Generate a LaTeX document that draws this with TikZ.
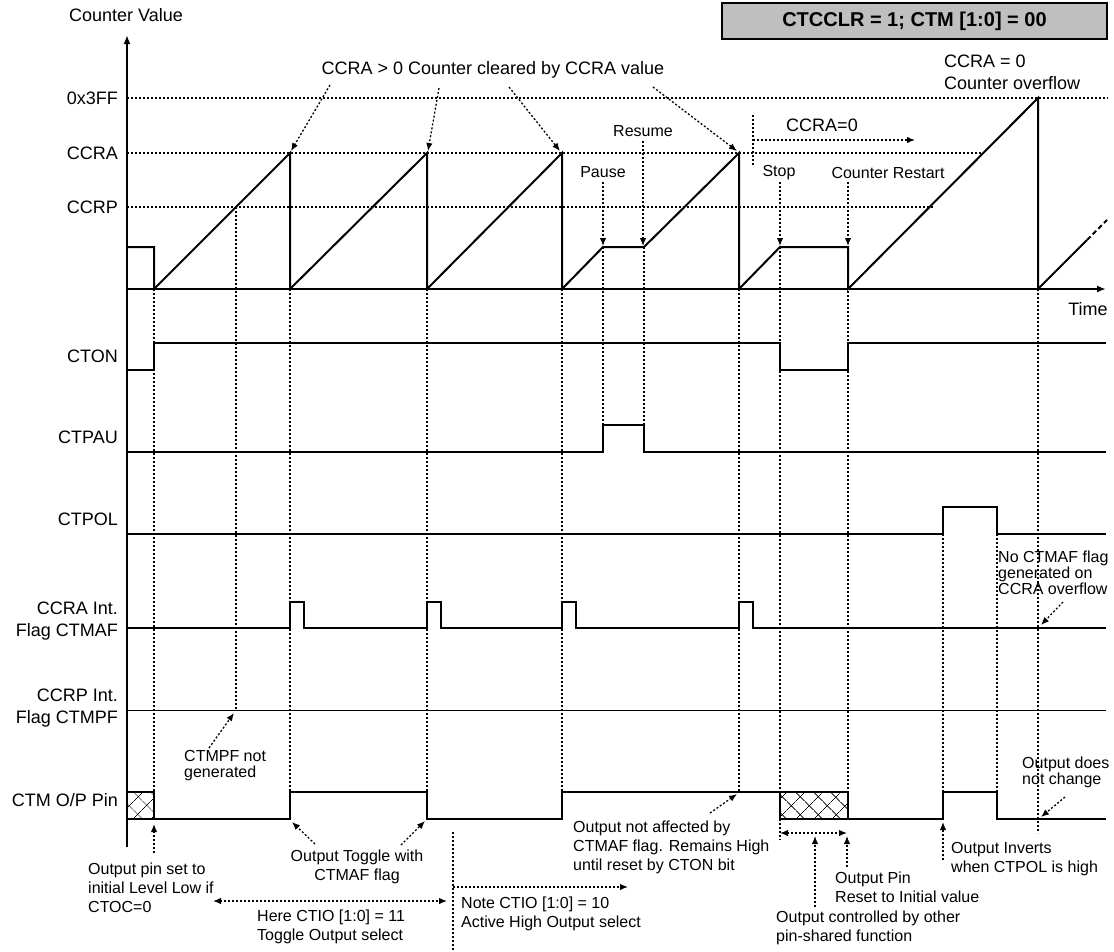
\documentclass[tikz,border=0pt]{standalone}
\usepackage{fontspec}
\setmainfont{Liberation Sans}
\usetikzlibrary{arrows.meta,patterns.meta}

\tikzset{
    lab/.style={inner sep=0pt, font=\fontsize{18}{22}\selectfont},
    note/.style={inner sep=0pt, anchor=west, align=left, font=\fontsize{16}{19}\selectfont},
    tight/.style={font=\fontsize{16}{16}\selectfont},
    guide/.style={line width=1.3pt, dash pattern=on 2pt off 2pt},
    hint/.style={guide, -{Latex[length=8pt,width=6.5pt]}},
    sig/.style={line width=1.5pt},
    cnt/.style={line width=2pt},
    xbox/.style={pattern={Hatch[angle=45,distance=13pt,line width=0.7pt]}}
}

\begin{document}
\begin{tikzpicture}[x=1pt, y=-1pt]
    \useasboundingbox (0,0) rectangle (1114,951);

    % mode
    \node[draw, line width=1.5pt, fill=black!25, minimum width=385pt, minimum height=36pt, inner sep=0pt,
          font=\fontsize{20}{24}\bfseries\selectfont] (mode) at (914.5,21) {CTCCLR = 1; CTM [1:0] = 00};

    % axes
    \draw[line width=2pt, -{Latex[length=9pt,width=7pt]}] (127,847) -- (127,35);
    \draw[line width=2pt, -{Latex[length=9pt,width=7pt]}] (127,289) -- (1106,289);
    \node[lab] (cval) at (126,15) {Counter Value};
    \node[lab] (time) at (1088,309) {Time};

    % levels
    \foreach \y/\t in {98/0x3FF, 153/CCRA, 207/CCRP}
        \node[lab, anchor=east] (lv\t) at (118,\y) {\t};
    \draw[guide] (127, 98) -- (1108, 98);
    \draw[guide] (127,153) -- (983,153);
    \draw[guide] (127,207) -- (933,207);

    % counter
    \draw[cnt] (127,247) -| (154,289) -- (290,153) -- (290,289) -- (427,153) -- (427,289)
        -- (562,153) -- (562,289) -- (603,247) -- (644,247) -- (739,153) -- (739,289)
        -- (780,247) -- (848,247) -- (848,289) -- (1038,98) -- (1038,289) -- (1087,240);
    \draw[cnt, dash pattern=on 5pt off 3pt] (1087,240) -- (1107,220);

    % signal names
    \node[lab, anchor=east] (ton) at (118,356) {CTON};
    \node[lab, anchor=east] (pau) at (118,437) {CTPAU};
    \node[lab, anchor=east] (pol) at (118,519) {CTPOL};
    \node[lab, anchor=east, align=right] (maf) at (118,621.5) {CCRA Int.\\Flag CTMAF};
    \node[lab, anchor=east, align=right] (mpf) at (118,708.5) {CCRP Int.\\Flag CTMPF};
    \node[lab, anchor=east] (pin) at (118,800) {CTM O/P Pin};

    % signals
    \draw[sig] (127,370) -- (154,370) -- (154,343) -- (780,343) -- (780,370) -- (848,370) -- (848,343) -- (1106,343);
    \draw[sig] (127,452) -- (603,452) -- (603,425) -- (644,425) -- (644,452) -- (1106,452);
    \draw[sig] (127,534) -- (943,534) -- (943,507) -- (997,507) -- (997,534) -- (1106,534);
    \draw[sig] (127,628) \foreach \t in {290,427,562,739} {-- (\t,628) -- (\t,602) -- (\t+14,602) -- (\t+14,628)} -- (1106,628);
    \draw[line width=1pt] (127,710) -- (1106,710);
    \fill[xbox] (127,792) rectangle (154,819);
    \fill[xbox] (780,792) rectangle (848,819);
    \draw[sig] (127,792) rectangle (154,819);
    \draw[sig] (780,792) rectangle (848,819);
    \draw[sig] (154,819) -- (290,819) -- (290,792) -- (427,792) -- (427,819) -- (562,819) -- (562,792) -- (780,792);
    \draw[sig] (848,819) -- (943,819) -- (943,792) -- (997,792) -- (997,819) -- (1106,819);

    % guides
    \draw[guide] (154,289) -- (154,819);
    \draw[guide] (236,207) -- (236,710);
    \draw[guide] (290,289) -- (290,819);
    \draw[guide] (427,289) -- (427,819);
    \draw[guide] (562,289) -- (562,819);
    \draw[guide] (603,247) -- (603,425);
    \draw[guide] (644,247) -- (644,425);
    \draw[guide] (739,289) -- (739,792);
    \draw[guide] (780,247) -- (780,840);
    \draw[guide] (848,247) -- (848,819);
    \draw[guide] (943,534) -- (943,819);
    \draw[guide] (997,534) -- (997,792);
    \draw[guide] (1038,289) -- (1038,833);
    \draw[guide] (753,115) -- (753,165);

    % top notes
    \node[lab] (clr) at (493,70) {CCRA > 0 Counter cleared by CCRA value};
    \draw[hint] (330,85) -- (291,151);
    \draw[hint] (439,88) -- (428,151);
    \draw[hint] (509,87) -- (560,151);
    \draw[hint] (653,87) -- (737,151);
    \node[note, anchor=center] (paus) at (603,172) {Pause};
    \node[note, anchor=center] (resm) at (643,131) {Resume};
    \node[note, anchor=center] (stop) at (779,173) {Stop};
    \node[note, anchor=center] (rest) at (888,173) {Counter Restart};
    \draw[hint] (603,182) -- (603,246);
    \draw[hint] (643,141) -- (643,246);
    \draw[hint] (780,182) -- (780,246);
    \draw[hint] (848,182) -- (848,246);
    \node[lab] (zero) at (822,125) {CCRA=0};
    \draw[hint] (753,140) -- (915,140);
    \node[lab, anchor=west, align=left] (ovf) at (944,72.5) {CCRA = 0\\Counter overflow};

    % side notes
    \node[note, tight] (nomaf) at (998,573) {No CTMAF flag\\generated on\\CCRA overflow};
    \draw[hint] (1063,602) -- (1041,625);
    \node[note, tight] (nompf) at (184,766) {CTMPF not\\generated};
    \draw[hint] (209,748) -- (234,713);
    \node[note, tight] (nochg) at (1022,772) {Output does\\not change};
    \draw[hint] (1065,797) -- (1041,817);

    % bottom notes
    \draw[hint] (154,853) -- (154,824);
    \node[note] (init) at (88,888) {Output pin set to\\initial Level Low if\\CTOC=0};
    \node[note, anchor=center, align=center] (togl) at (357,866.5) {Output Toggle with\\CTMAF flag};
    \draw[hint] (315,844) -- (292,822);
    \draw[hint] (401,845) -- (425,821);
    \draw[guide, {Latex[length=8pt,width=6.5pt]}-{Latex[length=8pt,width=6.5pt]}] (213,901) -- (447,901);
    \node[note] (here) at (257,927) {Here CTIO [1:0] = 11\\Toggle Output select};
    \draw[guide] (453,832) -- (453,951);
    \draw[hint] (453,887) -- (628,887);
    \node[note] (actv) at (461,914) {Note CTIO [1:0] = 10\\Active High Output select};
    \draw[hint] (710,813) -- (737,794);
    \node[note] (keep) at (573,847) {Output not affected by\\CTMAF flag. Remains High\\until reset by CTON bit};
    \draw[guide, {Latex[length=8pt,width=6.5pt]}-{Latex[length=8pt,width=6.5pt]}] (780,833) -- (847,833);
    \draw[hint] (815,907) -- (815,836);
    \node[note] (shar) at (776,927.5) {Output controlled by other\\pin-shared function};
    \draw[hint] (847,867) -- (847,836);
    \node[note] (rset) at (835,887) {Output Pin\\Reset to Initial value};
    \draw[hint] (943,860) -- (943,822);
    \node[note] (invt) at (951,859.5) {Output Inverts\\when CTPOL is high};
\end{tikzpicture}
\end{document}
